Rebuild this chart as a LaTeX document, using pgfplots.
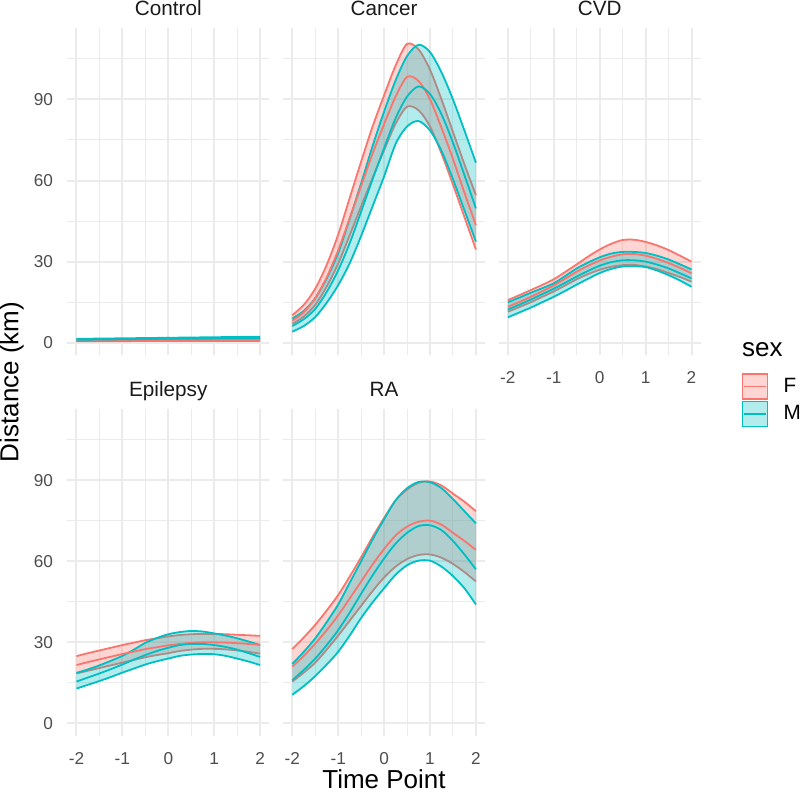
\documentclass[border=0pt]{standalone}
\usepackage{fontspec}
\setmainfont{Liberation Sans}
\usepackage{pgfplots}
\pgfplotsset{compat=1.18}
\usepgfplotslibrary{fillbetween}
\usepackage{pgfplotstable}
\definecolor{Fc}{HTML}{F8766D}
\definecolor{Mc}{HTML}{00BFC4}
\definecolor{g92}{HTML}{EBEBEB}
\definecolor{g30}{HTML}{4D4D4D}
\definecolor{g10}{HTML}{1A1A1A}

\pgfplotstableread{
t fu fm fl mu mm ml
-2 1.2 0.9 0.6 1.45 1.1 0.75
-1.75 1.2 0.9 0.6 1.5 1.15 0.8
-1.5 1.2 0.9 0.6 1.55 1.2 0.85
-1.25 1.21 0.91 0.61 1.6 1.25 0.9
-1 1.21 0.91 0.61 1.65 1.3 0.95
-0.75 1.22 0.92 0.62 1.7 1.35 1.0
-0.5 1.22 0.92 0.62 1.75 1.4 1.05
-0.25 1.23 0.93 0.63 1.8 1.45 1.1
0 1.23 0.93 0.63 1.85 1.5 1.15
0.25 1.23 0.94 0.64 1.9 1.55 1.2
0.5 1.24 0.95 0.65 1.95 1.6 1.25
0.75 1.25 0.96 0.66 2.0 1.65 1.3
1 1.26 0.97 0.67 2.05 1.7 1.35
1.25 1.27 0.97 0.67 2.1 1.75 1.4
1.5 1.28 0.98 0.68 2.15 1.8 1.45
1.75 1.29 0.99 0.69 2.2 1.85 1.5
2 1.3 1.0 0.7 2.25 1.9 1.55
}\control

\pgfplotstableread{
t fu fm fl mu mm ml
-2 10.2 8.2 7.0 9.0 6.2 4.1
-1.75 14 11.3 9.7 11.8 8.7 6.2
-1.5 20 16.5 14 16.5 12.5 9.5
-1.25 28.8 24.2 20.8 23.8 18.8 14.8
-1 40 34.2 29.3 33.2 26.8 21.3
-0.75 53.5 46 39.7 45.8 36.8 29.4
-0.5 67 58 50.5 59 48.5 39.5
-0.25 80 70 61 72.8 60.5 50.5
0 91.5 80.8 71.2 85.5 72 61.5
0.25 102.5 91 81 97 83 73.5
0.5 110.5 98.3 87.3 106 91 80
0.75 108.5 96.8 86 110.2 94.8 82
1 101 90 80 107.5 92 78.5
1.25 90 79.5 70 100 84.5 71
1.5 78 68 58.5 90 74 60.5
1.75 66 55.5 46.5 78.5 62 49
2 54.6 43.5 34.5 66.6 49.7 37.4
}\cancer

\pgfplotstableread{
t fu fm fl mu mm ml
-2 15.8 13.3 11.5 15 12.3 9.4
-1.75 17.6 15.1 13.2 16.7 14.1 11.2
-1.5 19.5 17 15 18.5 16 13
-1.25 21.4 19.1 17 20.2 18 15
-1 23.5 21.2 19 22 20 17
-0.75 26.2 23.7 21.2 24.7 22.2 19.2
-0.5 29 26.3 23.5 27.5 24.5 21.5
-0.25 31.9 28.5 25.4 29.7 26.6 23.7
0 34.5 30.4 27 31.6 28.5 25.8
0.25 36.6 31.8 28.1 33 29.8 27.3
0.5 38 32.7 28.7 33.6 30.5 28.2
0.75 38.1 32.8 28.8 33.6 30.5 28.3
1 37.3 32.2 28.2 33.2 30 28
1.25 36 31 27.2 32.2 28.9 26.7
1.5 34.3 29.5 25.8 30.8 27.5 25
1.75 32.2 27.7 24.3 29 25.7 23
2 30 25.7 22.6 27.1 23.8 20.7
}\cvd

\pgfplotstableread{
t fu fm fl mu mm ml
-2 24.9 21.6 18.5 18.7 15.5 12.9
-1.75 26 22.7 19.5 20 17 14.3
-1.5 27 23.7 20.5 21.5 18.5 15.7
-1.25 28 24.7 21.5 23.2 20.1 17.2
-1 29 25.7 22.5 25 21.8 18.8
-0.75 29.9 26.6 23.5 27.3 23.6 20.3
-0.5 30.8 27.5 24.5 29.8 25.3 21.8
-0.25 31.5 28.2 25.3 31.6 26.8 23
0 32.2 28.9 26 33 28 24
0.25 32.7 29.4 26.8 33.8 29 25
0.5 33 29.8 27.3 34.2 29.4 25.5
0.75 33.1 30 27.6 34 29.4 25.7
1 33.1 30 27.6 33.3 29 25.6
1.25 33 29.9 27.4 32.5 28.3 25
1.5 32.8 29.7 27 31.5 27.3 24
1.75 32.6 29.4 26.5 30.3 26 22.9
2 32.4 29.1 25.8 29 24.6 21.6
}\epilepsy

\pgfplotstableread{
t fu fm fl mu mm ml
-2 27.5 21 15.5 22 16 10.6
-1.75 31.8 25 18.8 26.5 19.8 13.8
-1.5 36.5 29.5 22.5 31.5 24 17.5
-1.25 41.8 34.5 27.3 37.5 29 21.8
-1 47.5 40 32.5 44 34.5 26.5
-0.75 54.3 46.2 38 52 41 32.5
-0.5 61.5 52.5 43.5 60 48 39
-0.25 69 58.8 49 68 54.8 44.8
0 76 64.5 54 75.5 61 50
0.25 82.5 69.5 58 82.5 66.5 55
0.5 86.5 72.8 60.8 87 70.5 58.5
0.75 89 74.6 62.3 89.3 73 60.2
1 89.5 75 62.5 89.2 73.3 60.2
1.25 88 73.5 61.3 87 71.5 58
1.5 85 70.5 59 83 67.5 54.5
1.75 82 67.5 56 78.5 62.5 50
2 78.5 64.2 52.5 74 57 44
}\ra

\pgfplotsset{
  /tikz/fill between/on layer=main,
  panel/.style={
    scale only axis, width=101pt, height=163.6pt,
    xmin=-2.2, xmax=2.2, ymin=-4.7, ymax=116.3,
    xtick={-2,-1,0,1,2}, ytick={0,30,60,90},
    minor xtick={-1.5,-0.5,0.5,1.5}, minor ytick={15,45,75,105},
    grid=both,
    major grid style={g92, line width=1pt},
    minor grid style={g92, line width=0.5pt},
    axis line style={draw=none},
    major tick length=0pt, minor tick length=0pt,
    xticklabels={}, yticklabels={},
    xticklabel style={anchor=north, inner sep=0pt, yshift=-8pt, font=\fontsize{8.6}{10}\selectfont, text=g30},
    yticklabel style={anchor=east, inner sep=0pt, xshift=-7pt, font=\fontsize{8.6}{10}\selectfont, text=g30},
    every axis title/.style={at={(0.5,1)}, anchor=base, yshift=6.15pt, font=\fontsize{10.35}{12}\selectfont, text=g10, inner sep=0pt},
  },
  xlab/.style={xticklabels={-2,-1,0,1,2}},
  ylab/.style={yticklabels={0,30,60,90}},
  dline/.style={line width=0.9pt, smooth},
}

\newcommand{\panel}[2]{%
  \addplot[draw=none, smooth, name path=#2fu] table[x=t,y=fu]{#1};
  \addplot[draw=none, smooth, name path=#2fl] table[x=t,y=fl]{#1};
  \addplot[fill=Fc, fill opacity=0.3, draw=none] fill between[of=#2fu and #2fl];
  \addplot[Fc, dline] table[x=t,y=fu]{#1};
  \addplot[Fc, dline] table[x=t,y=fl]{#1};
  \addplot[draw=none, smooth, name path=#2mu] table[x=t,y=mu]{#1};
  \addplot[draw=none, smooth, name path=#2ml] table[x=t,y=ml]{#1};
  \addplot[fill=Mc, fill opacity=0.3, draw=none] fill between[of=#2mu and #2ml];
  \addplot[Mc, dline] table[x=t,y=mu]{#1};
  \addplot[Mc, dline] table[x=t,y=ml]{#1};
  \addplot[Fc, dline] table[x=t,y=fm]{#1};
  \addplot[Mc, dline] table[x=t,y=mm]{#1};
}

\begin{document}
\begin{tikzpicture}
\path (0,0) rectangle (400pt,397.5pt);

\begin{axis}[panel, ylab, title={Control}, at={(33.65pt,219.75pt)}, anchor=south west]
\panel{\control}{a}
\end{axis}

\begin{axis}[panel, title={Cancer}, at={(141.55pt,219.75pt)}, anchor=south west]
\panel{\cancer}{b}
\end{axis}

\begin{axis}[panel, xlab, title={CVD}, at={(249.35pt,219.75pt)}, anchor=south west,
  legend style={at={(1.203,-0.0544)}, anchor=north west, draw=none, fill=none,
    inner sep=0pt, outer sep=0pt, row sep=0.4pt, column sep=7.6pt,
    nodes={inner sep=0pt, text=black, font=\fontsize{10.35}{12}\selectfont}},
  legend cell align=left]
\addlegendimage{legend image code/.code={%
  \draw[draw=Fc, fill=Fc!30, line width=0.8pt] (0.4pt,-6.25pt) rectangle (12.9pt,6.25pt);
  \draw[Fc, line width=0.9pt] (1.2pt,0pt) -- (12.1pt,0pt);}}
\addlegendentry{F}
\addlegendimage{legend image code/.code={%
  \draw[draw=Mc, fill=Mc!30, line width=0.8pt] (0.4pt,-6.25pt) rectangle (12.9pt,6.25pt);
  \draw[Mc, line width=0.9pt] (1.2pt,0pt) -- (12.1pt,0pt);}}
\addlegendentry{M}
\panel{\cvd}{c}
\end{axis}

\begin{axis}[panel, xlab, ylab, title={Epilepsy}, at={(33.65pt,29.4pt)}, anchor=south west]
\panel{\epilepsy}{d}
\end{axis}

\begin{axis}[panel, xlab, title={RA}, at={(141.55pt,29.4pt)}, anchor=south west]
\panel{\ra}{e}
\end{axis}

\node[anchor=base, inner sep=0pt, font=\fontsize{13}{15}\selectfont] at (192pt,3pt) {Time Point};
\node[anchor=base, rotate=90, inner sep=0pt, font=\fontsize{13}{15}\selectfont] at (9.2pt,206.5pt) {Distance (km)};
\node[anchor=base west, inner sep=0pt, font=\fontsize{13}{15}\selectfont] at (370.85pt,219.15pt) {sex};
\pgfresetboundingbox
\path[use as bounding box] (0,0) rectangle (400pt,397.5pt);
\end{tikzpicture}
\end{document}
